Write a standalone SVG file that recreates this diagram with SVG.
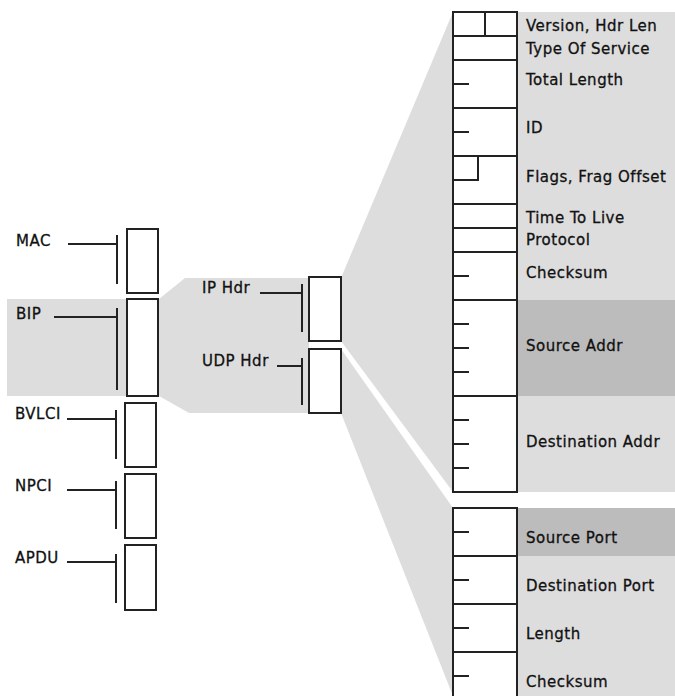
<svg xmlns="http://www.w3.org/2000/svg" width="675" height="696" viewBox="0 0 675 696">
<style>
.bg{fill:#dddddd;stroke:none}
.dk{fill:#bcbcbc;stroke:none}
.box{fill:#ffffff;stroke:#222222;stroke-width:2}
.ln{fill:none;stroke:#222222;stroke-width:2}
text{font-family:"DejaVu Sans",sans-serif;font-size:15px;fill:#111111;stroke:#111111;stroke-width:0.3px;letter-spacing:0.5px}
</style>
<rect width="675" height="696" fill="#ffffff"/>
<g id="expansions">
<polygon class="bg" points="7,299 159,299 185,278 309,278 309,413 189,413 159,396 7,396"/>
<polygon class="bg" points="341,278 453,12 453,492 341,341"/>
<polygon class="bg" points="341,349 453,508 453,696 341,413"/>
<rect class="bg" x="453" y="12" width="222" height="480"/>
<rect class="bg" x="453" y="508" width="222" height="188"/>
<rect class="dk" x="517" y="300" width="158" height="96"/>
<rect class="dk" x="517" y="508" width="158" height="48"/>
</g>
<g id="connectors">
<path class="ln" d="M68,244H117M117,235V284"/>
<path class="ln" d="M54,317H117M117,308V390"/>
<path class="ln" d="M67,419H116M116,410V459"/>
<path class="ln" d="M67,490H116M116,481V529"/>
<path class="ln" d="M67,562H116M116,554V603"/>
<path class="ln" d="M260,293H302M302,284V332"/>
<path class="ln" d="M277,366H302M302,358V405"/>
</g>
<g id="mac"><rect class="box" x="127" y="229" width="31" height="64"/><text x="16" y="246">MAC</text></g>
<g id="bip"><rect class="box" x="127" y="299" width="31" height="97"/><text x="16" y="319">BIP</text></g>
<g id="bvlci"><rect class="box" x="125" y="403" width="31" height="64"/><text x="15" y="419">BVLCI</text></g>
<g id="npci"><rect class="box" x="125" y="474" width="31" height="64"/><text x="15" y="491">NPCI</text></g>
<g id="apdu"><rect class="box" x="125" y="545" width="31" height="65"/><text x="15" y="563">APDU</text></g>
<g id="ip-hdr"><rect class="box" x="309" y="277" width="32" height="64"/><text x="202" y="293">IP Hdr</text></g>
<g id="udp-hdr"><rect class="box" x="309" y="349" width="32" height="64"/><text x="202" y="366">UDP Hdr</text></g>
<g id="ip-table">
<rect class="box" x="453" y="12" width="64" height="480"/>
<path class="ln" d="M453,36H517M453,60H517M453,108H517M453,156H517M453,204H517M453,228H517M453,252H517M453,300H517M453,396H517"/>
<path class="ln" d="M485,12V36M478,156V180H453"/>
<path class="ln" d="M453,84H469M453,132H469M453,276H469M453,324H469M453,348H469M453,372H469M453,420H469M453,444H469M453,468H469"/>
<text x="526" y="31">Version, Hdr Len</text>
<text x="526" y="54">Type Of Service</text>
<text x="526" y="85">Total Length</text>
<text x="526" y="133">ID</text>
<text x="526" y="182">Flags, Frag Offset</text>
<text x="526" y="223">Time To Live</text>
<text x="526" y="245">Protocol</text>
<text x="526" y="278">Checksum</text>
<text x="526" y="351">Source Addr</text>
<text x="526" y="447">Destination Addr</text>
</g>
<g id="udp-table">
<rect class="box" x="453" y="508" width="64" height="200"/>
<path class="ln" d="M453,556H517M453,604H517M453,652H517"/>
<path class="ln" d="M453,532H469M453,580H469M453,628H469M453,676H469"/>
<text x="526" y="543">Source Port</text>
<text x="526" y="591">Destination Port</text>
<text x="526" y="639">Length</text>
<text x="526" y="687">Checksum</text>
</g>
</svg>
